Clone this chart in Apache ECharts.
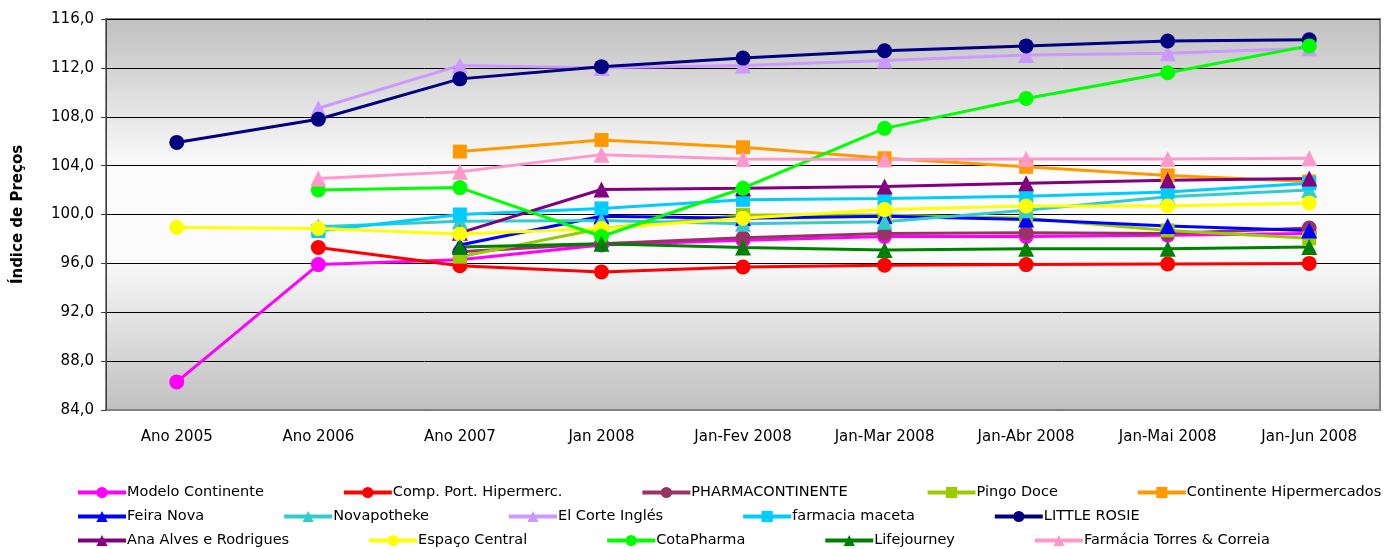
<!DOCTYPE html>
<html>
<head>
<meta charset="utf-8">
<script src="https://cdn.jsdelivr.net/npm/echarts@6/dist/echarts.min.js"></script>
<style>
  html, body { margin: 0; padding: 0; background: #fff; }
  #main { width: 1397px; height: 549px; }
</style>
</head>
<body>
<div id="main"></div>
<script>
// categorias do eixo x
var categories = ['Ano 2005', 'Ano 2006', 'Ano 2007', 'Jan 2008', 'Jan-Fev 2008', 'Jan-Mar 2008', 'Jan-Abr 2008', 'Jan-Mai 2008', 'Jan-Jun 2008'];

// eixo y
var yMin = 84, yMax = 116, yStep = 4;

// valores (null = sem dados)
var modeloContinente   = [86.3, 95.9, 96.3, 97.5, 97.9, 98.2, 98.2, 98.3, 98.45];
var compPort           = [null, 97.3, 95.8, 95.3, 95.7, 95.85, 95.9, 95.95, 96.0];
var pharmacontinente   = [null, null, 96.95, 97.6, 98.1, 98.45, 98.5, 98.45, 98.9];
var pingoDoce          = [null, null, 96.55, 98.85, 99.95, 99.95, 99.7, 98.7, 98.05];
var continenteHiper    = [null, null, 105.15, 106.1, 105.5, 104.6, 103.9, 103.2, 102.7];
var feiraNova          = [null, null, 97.5, 99.85, 99.7, 99.85, 99.6, 99.05, 98.7];
var novapotheke        = [null, 99.0, 99.45, 99.5, 99.25, 99.4, 100.35, 101.45, 102.0];
var elCorteIngles      = [null, 108.7, 112.2, 112.0, 112.2, 112.6, 113.05, 113.2, 113.6];
var farmaciaMaceta     = [null, 98.65, 100.0, 100.5, 101.2, 101.3, 101.5, 101.85, 102.55];
var littleRosie        = [105.9, 107.8, 111.1, 112.1, 112.8, 113.4, 113.8, 114.2, 114.3];
var anaAlves           = [null, null, 98.5, 102.05, 102.15, 102.3, 102.55, 102.8, 102.95];
var espacoCentral      = [98.95, 98.85, 98.4, 98.85, 99.7, 100.4, 100.7, 100.7, 100.95];
var cotaPharma         = [null, 102.0, 102.2, 98.2, 102.15, 107.05, 109.5, 111.6, 113.8];
var lifejourney        = [null, null, 97.35, 97.6, 97.3, 97.1, 97.2, 97.2, 97.35];
var farmaciaTorres     = [null, 102.95, 103.5, 104.9, 104.55, 104.5, 104.55, 104.55, 104.6];

var seriesDefs = [
  { name: 'Modelo Continente', data: modeloContinente, color: '#FF00FF', symbol: 'circle' },
  { name: 'Comp. Port. Hipermerc.', data: compPort, color: '#FF0000', symbol: 'circle' },
  { name: 'PHARMACONTINENTE', data: pharmacontinente, color: '#993366', symbol: 'circle' },
  { name: 'Pingo Doce', data: pingoDoce, color: '#99CC00', symbol: 'rect' },
  { name: 'Continente Hipermercados', data: continenteHiper, color: '#FF9900', symbol: 'rect' },
  { name: 'Feira Nova', data: feiraNova, color: '#0000FF', symbol: 'triangle' },
  { name: 'Novapotheke', data: novapotheke, color: '#33CCCC', symbol: 'triangle' },
  { name: 'El Corte Inglés', data: elCorteIngles, color: '#CC99FF', symbol: 'triangle' },
  { name: 'farmacia maceta', data: farmaciaMaceta, color: '#00CCFF', symbol: 'rect' },
  { name: 'LITTLE ROSIE', data: littleRosie, color: '#000080', symbol: 'circle' },
  { name: 'Ana Alves e Rodrigues', data: anaAlves, color: '#800080', symbol: 'triangle' },
  { name: 'Espaço Central', data: espacoCentral, color: '#FFFF00', symbol: 'circle' },
  { name: 'CotaPharma', data: cotaPharma, color: '#00FF00', symbol: 'circle' },
  { name: 'Lifejourney', data: lifejourney, color: '#008000', symbol: 'triangle' },
  { name: 'Farmácia Torres & Correia', data: farmaciaTorres, color: '#FF99CC', symbol: 'triangle' }
];

var font = '"DejaVu Sans", sans-serif';

// legenda: 3 linhas de 5 itens, colunas de largura fixa (267px)
var legendRows = [485, 509, 533];
var legends = legendRows.map(function (y, r) {
  return {
    data: seriesDefs.slice(r * 5, r * 5 + 5).map(function (s) { return s.name; }),
    orient: 'horizontal',
    left: 76,
    top: y,
    padding: 0,
    itemWidth: 48,
    itemHeight: 14,
    itemGap: 78,
    lineStyle: { width: 4 },
    textStyle: { fontFamily: font, fontSize: 14.5, color: '#000', width: 198, overflow: 'truncate', padding: [0, 0, 0, -4] },
    selectedMode: false
  };
});

var chart = echarts.init(document.getElementById('main'));
chart.setOption({
  animation: false,
  textStyle: { fontFamily: font },
  grid: {
    left: 106, right: 17, top: 19, bottom: 139,
    show: true,
    borderColor: '#808080',
    borderWidth: 2,
    backgroundColor: new echarts.graphic.LinearGradient(0, 0, 0, 1, [
      { offset: 0, color: '#c0c0c0' },
      { offset: 0.38, color: '#fbfbfb' },
      { offset: 0.6, color: '#fbfbfb' },
      { offset: 1, color: '#c0c0c0' }
    ])
  },
  legend: legends,
  xAxis: {
    type: 'category',
    data: categories,
    boundaryGap: true,
    axisLine: { lineStyle: { color: '#808080', width: 1 } },
    axisTick: { show: false },
    axisLabel: { color: '#000', fontSize: 15, fontFamily: font, margin: 20 }
  },
  yAxis: {
    type: 'value',
    min: yMin, max: yMax, interval: yStep,
    name: 'Índice de Preços',
    nameLocation: 'middle',
    nameGap: 80,
    nameTextStyle: { fontWeight: 'bold', fontSize: 15, color: '#000', fontFamily: font },
    axisLine: { show: true, lineStyle: { color: '#404040', width: 1 } },
    axisTick: { show: true, length: 5, lineStyle: { color: '#404040' } },
    axisLabel: {
      color: '#000', fontSize: 15, fontFamily: font, margin: 12,
      formatter: function (v) { return v.toFixed(1).replace('.', ','); }
    },
    splitLine: { show: true, lineStyle: { color: '#000', width: 1 } }
  },
  series: seriesDefs.map(function (s) {
    return {
      name: s.name,
      type: 'line',
      data: s.data,
      symbol: s.symbol,
      symbolSize: s.symbol === 'circle' ? 15 : (s.symbol === 'rect' ? 14 : 16),
      connectNulls: false,
      lineStyle: { color: s.color, width: 3 },
      itemStyle: { color: s.color }
    };
  })
});
</script>
</body>
</html>
